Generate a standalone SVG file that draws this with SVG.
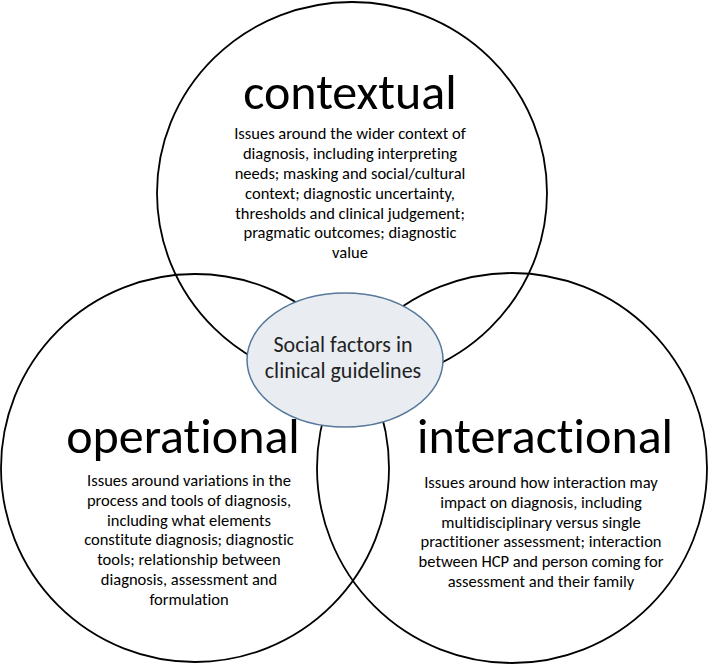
<svg xmlns="http://www.w3.org/2000/svg" width="710" height="665" viewBox="0 0 710 665">
<style>
text{font-variant-ligatures:none;font-feature-settings:"liga" 0,"clig" 0,"dlig" 0}
.ring{fill:none;stroke:#000;stroke-width:1.8}
.title{font-family:Carlito,Lato,"Open Sans",sans-serif;font-size:50px;fill:#000;text-anchor:middle}
.desc{font-family:Carlito,Lato,"Open Sans",sans-serif;font-size:16.5px;fill:#000;text-anchor:middle}
.core{fill:#e9edf2;stroke:#56789a;stroke-width:1.5}
.coretxt{font-family:Carlito,Lato,"Open Sans",sans-serif;font-size:22px;fill:#222;text-anchor:middle}
</style>
<rect width="710" height="665" fill="#fff"/>
<g id="connectors"/>
<g id="contextual">
<ellipse class="ring" cx="352" cy="193" rx="195" ry="191"/>
<text class="title" x="350" y="109">contextual</text>
<text class="desc" x="350" y="139">Issues around the wider context of</text>
<text class="desc" x="350" y="159">diagnosis, including interpreting</text>
<text class="desc" x="350" y="179">needs; masking and social/cultural</text>
<text class="desc" x="350" y="199">context; diagnostic uncertainty,</text>
<text class="desc" x="350" y="219">thresholds and clinical judgement;</text>
<text class="desc" x="350" y="238">pragmatic outcomes; diagnostic</text>
<text class="desc" x="350" y="258">value</text>
</g>
<g id="operational">
<circle class="ring" cx="195" cy="468" r="194"/>
<text class="title" x="183" y="453">operational</text>
<text class="desc" x="189" y="486">Issues around variations in the</text>
<text class="desc" x="189" y="506">process and tools of diagnosis,</text>
<text class="desc" x="189" y="526">including what elements</text>
<text class="desc" x="189" y="545">constitute diagnosis; diagnostic</text>
<text class="desc" x="189" y="565">tools; relationship between</text>
<text class="desc" x="189" y="585">diagnosis, assessment and</text>
<text class="desc" x="189" y="605">formulation</text>
</g>
<g id="interactional">
<circle class="ring" cx="512" cy="468" r="195"/>
<text class="title" x="545" y="453">interactional</text>
<text class="desc" x="541" y="488">Issues around how interaction may</text>
<text class="desc" x="541" y="508">impact on diagnosis, including</text>
<text class="desc" x="541" y="528">multidisciplinary versus single</text>
<text class="desc" x="541" y="547">practitioner assessment; interaction</text>
<text class="desc" x="541" y="567">between HCP and person coming for</text>
<text class="desc" x="541" y="587">assessment and their family</text>
</g>
<g id="core">
<ellipse class="core" cx="345" cy="360" rx="98" ry="67"/>
<text class="coretxt" x="343" y="352">Social factors in</text>
<text class="coretxt" x="343" y="378">clinical guidelines</text>
</g>
</svg>
